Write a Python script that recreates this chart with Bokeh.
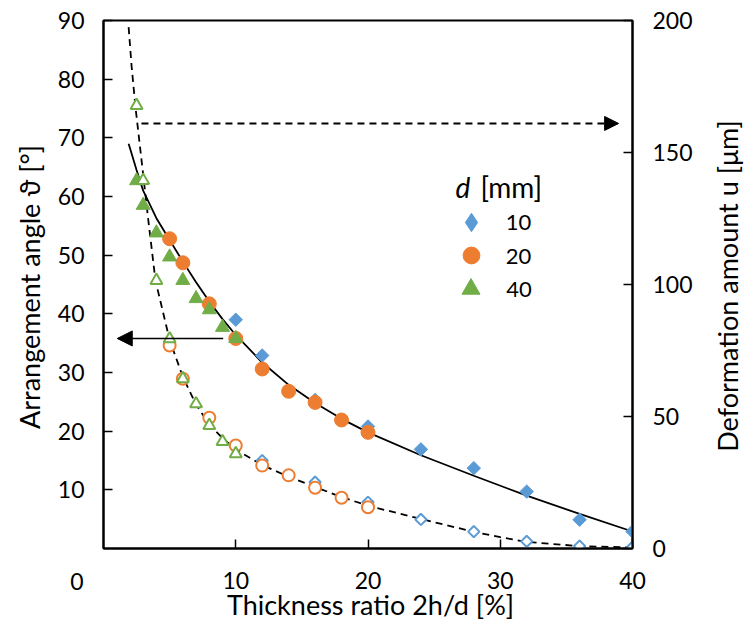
import math
from bokeh.plotting import figure
from bokeh.models import (Range1d, LinearAxis, FixedTicker, Label, Arrow, NormalHead,
                          Legend, LegendItem)
from bokeh.embed import file_html
from bokeh.resources import INLINE

# ---------------- data ----------------
x_d10 = [10, 12, 16, 20, 24, 28, 32, 36, 40]
x_d20 = [5, 6, 8, 10, 12, 14, 16, 18, 20]
x_d40 = [2.5, 3, 4, 5, 6, 7, 8, 9, 10]

angle_d10 = [39.0, 32.9, 25.3, 20.8, 16.9, 13.7, 9.7, 4.9, 2.9]
angle_d20 = [52.8, 48.7, 41.7, 35.8, 30.6, 26.8, 24.9, 21.9, 19.8]
angle_d40 = [62.7, 58.5, 53.8, 49.7, 45.7, 42.6, 40.7, 37.7, 35.8]

u_d10 = [38.5, 33.3, 25.1, 17.5, 11.0, 6.4, 2.7, 0.9, 0.5]
u_d20 = [76.9, 64.3, 49.5, 39.0, 31.4, 27.7, 23.0, 19.2, 15.6]
u_d40 = [167.8, 139.4, 101.5, 79.4, 64.3, 54.8, 46.6, 40.5, 35.9]

fit_angle_x = [1.9, 2.5, 3, 4, 5, 6, 7, 8, 9, 10, 12, 14, 16, 18, 20, 24, 28, 32, 36, 40]
fit_angle_y = [69, 64.5, 61, 56.3, 52.6, 48.9, 45.4, 42.1, 39.1, 36.4, 31.7, 27.9, 24.8,
               22.1, 19.8, 15.9, 12.4, 9.0, 5.9, 2.9]

fit_u_x = [1.9, 2.12, 2.4, 3.05, 3.35, 3.93, 5, 6, 7, 8, 9, 10, 12, 14, 16, 18, 20, 24,
           28, 30, 32, 36, 40]
fit_u_y = [197.5, 183, 168, 139.4, 126, 101.5, 79, 65, 54.5, 47, 41.8, 37.5, 31.6, 27.2,
           23.3, 19.5, 16.2, 11.2, 6.3, 4.3, 2.5, 0.9, 0.4]

legend_labels = ["10", "20", "40"]
x_ticks = [10, 20, 30, 40]
left_ticks = [10, 20, 30, 40, 50, 60, 70, 80, 90]
right_ticks = [0, 50, 100, 150, 200]

# arrows (data units)
arrow_angle = (9.05, 35.8, 1.04, 35.8)      # left axis
arrow_u = (2.87, 161.0, 38.95, 161.0)       # right axis

BLUE = "#5B9BD5"
ORANGE = "#ED7D31"
GREEN = "#70AD47"
FONT = "Lato"

# ---------------- geometry helpers (canvas px -> data units, for text placement) ----------------
FL, FT, FW, FH = 103, 20, 529, 528


def dx(px):
    return (px - FL) / FW * 40.0


def dy(py):
    return (FT + FH - py) / FH * 90.0


p = figure(width=745, height=634, x_range=Range1d(0, 40), y_range=Range1d(0, 90),
           output_backend="svg", toolbar_location=None,
           min_border_left=FL, min_border_right=745 - FL - FW,
           min_border_top=FT, min_border_bottom=634 - FT - FH)
p.extra_y_ranges = {"u": Range1d(0, 200)}
p.xgrid.visible = False
p.ygrid.visible = False
p.outline_line_color = "black"
p.outline_line_width = 2
p.background_fill_color = "white"
p.border_fill_color = "white"

raxis = LinearAxis(y_range_name="u")
p.add_layout(raxis, "right")

p.xaxis.ticker = FixedTicker(ticks=x_ticks)
p.yaxis[0].ticker = FixedTicker(ticks=left_ticks)
raxis.ticker = FixedTicker(ticks=right_ticks)

for ax in [p.xaxis[0], p.yaxis[0], raxis]:
    ax.axis_line_width = 2
    ax.axis_line_color = "black"
    ax.major_tick_in = 9
    ax.major_tick_out = 0
    ax.major_tick_line_width = 1.5
    ax.major_tick_line_color = "black"
    ax.minor_tick_line_color = None
    ax.major_label_text_font = FONT
    ax.major_label_text_font_size = "23px"
    ax.major_label_text_color = "black"
p.xaxis[0].major_label_standoff = 23
p.yaxis[0].major_label_standoff = 19
raxis.major_label_standoff = 20

# ---------------- curves ----------------
p.line(fit_angle_x, fit_angle_y, line_color="black", line_width=1.8)
p.line(fit_u_x, fit_u_y, y_range_name="u", line_color="black", line_width=1.8,
       line_dash="7 5")

# ---------------- markers ----------------
rb = p.scatter(x_d10, angle_d10, marker="square", angle=math.pi / 4, size=9.5,
               fill_color=BLUE, line_color=BLUE)
ro = p.scatter(x_d20, angle_d20, marker="circle", size=14, fill_color=ORANGE,
               line_color=ORANGE)
rg = p.scatter(x_d40, angle_d40, marker="triangle", size=14, fill_color=GREEN,
               line_color=GREEN)
# legend-only proxy (diamond shape for the legend swatch)
rb_leg = p.scatter(x_d10, angle_d10, marker="diamond", size=10, fill_color=BLUE,
                   line_color=BLUE, visible=False)

p.scatter(x_d10, u_d10, y_range_name="u", marker="square", angle=math.pi / 4, size=8,
          fill_color="white", line_color=BLUE, line_width=2)
p.scatter(x_d20, u_d20, y_range_name="u", marker="circle", size=12,
          fill_color="white", line_color=ORANGE, line_width=2)
p.scatter(x_d40, u_d40, y_range_name="u", marker="triangle", size=12,
          fill_color="white", line_color=GREEN, line_width=2)

# ---------------- arrows ----------------
p.add_layout(Arrow(end=NormalHead(size=15, fill_color="black", line_color="black",
                                  line_width=1),
                   x_start=arrow_angle[0], y_start=arrow_angle[1],
                   x_end=arrow_angle[2], y_end=arrow_angle[3],
                   line_color="black", line_width=1.5))
p.add_layout(Arrow(end=NormalHead(size=14, fill_color="black", line_color="black",
                                  line_width=1),
                   x_start=arrow_u[0], y_start=arrow_u[1],
                   x_end=arrow_u[2], y_end=arrow_u[3], y_range_name="u",
                   line_color="black", line_width=2, line_dash="7 5"))


# ---------------- texts ----------------
def mk(text, x, y, size="27px", style="normal", **kw):
    return Label(x=x, y=y, text=text, text_font=FONT, text_font_size=size,
                 text_font_style=style, text_color="black", **kw)


R = math.pi / 2
# axis titles live in the side panels so that they are not clipped to the frame
p.add_layout(mk("Arrangement angle ϑ [°]", dx(29), dy(286.5), angle=R,
                text_align="center", text_baseline="alphabetic"), "left")
p.add_layout(mk("0", dx(83), dy(581), size="23px", text_align="right",
                text_baseline="middle"), "left")
p.add_layout(mk("Deformation amount u [μm]", dx(727), dy(285.5), angle=R,
                text_align="center", text_baseline="alphabetic"), "right")
p.add_layout(mk("Thickness ratio 2h/d [%]", dx(370), dy(604), text_align="center",
                text_baseline="alphabetic"), "below")

# legend title (inside the frame)
p.add_layout(mk("d", dx(455), dy(186), size="28px", style="italic", text_align="left",
                text_baseline="alphabetic"))
p.add_layout(mk("[mm]", dx(480), dy(186), size="28px", text_align="left",
                text_baseline="alphabetic"))


# ---------------- legend (one per entry so each swatch gets its own size) ----------------
def add_legend(renderer, label, G, yc):
    x0 = 470.7 - G / 2.0
    standoff = int(round(506 - (x0 + G)))
    leg = Legend(items=[LegendItem(label=label, renderers=[renderer])],
                 location=(x0 - FL, (FT + FH) - (yc + G / 2.0)),
                 glyph_width=G, glyph_height=G, label_standoff=standoff,
                 padding=0, margin=0, spacing=0, label_height=G,
                 background_fill_alpha=0, border_line_color=None,
                 inactive_fill_alpha=0,
                 label_text_font=FONT, label_text_font_size="22px",
                 label_text_color="black")
    p.add_layout(leg)


add_legend(rb_leg, legend_labels[0], 46, 221.7)
add_legend(ro, legend_labels[1], 42, 255.0)
add_legend(rg, legend_labels[2], 45, 288.3)

open("out.html", "w").write(file_html(p, INLINE))
